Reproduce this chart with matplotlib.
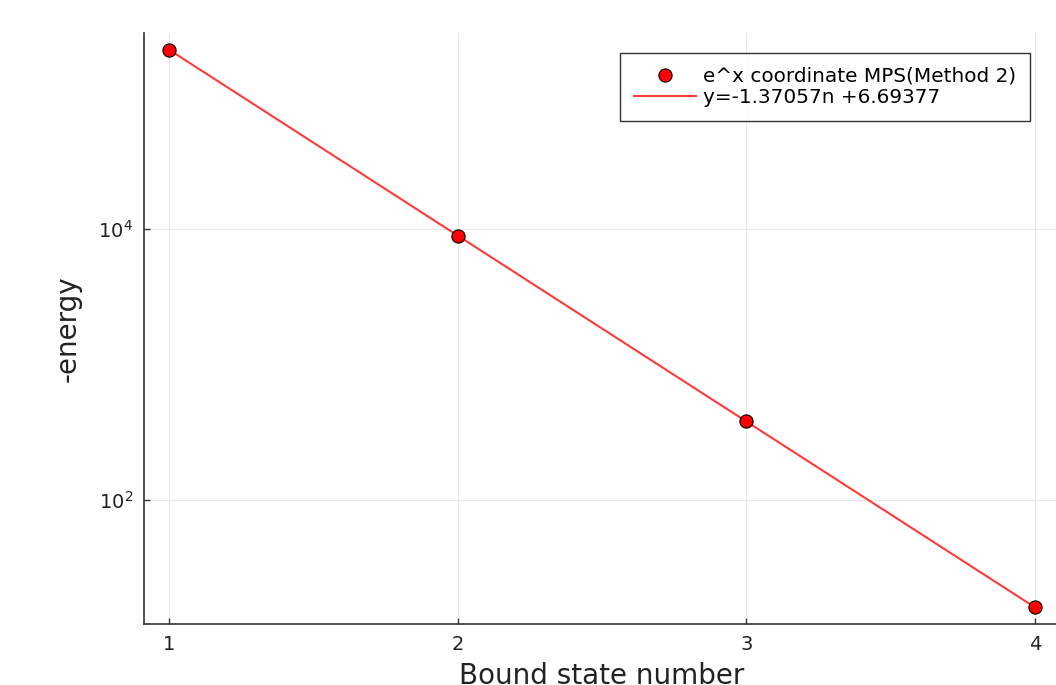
import matplotlib.pyplot as plt

# === Data ===
state_n = [1, 2, 3, 4]
neg_energy = [2.09e5, 8.95e3, 3.82e2, 1.63e1]
fit_n = [1, 4]
fit_energy = [2.104e5, 16.25]
label_points = "e^x coordinate MPS(Method 2)"
label_fit = "y=-1.37057n +6.69377"

# === Plot ===
fig = plt.figure(figsize=(10.56, 6.85), dpi=100)
ax = fig.add_axes([144 / 1056, 61 / 685, 916 / 1056, 591 / 685])

ax.plot(fit_n, fit_energy, color='#ff3a3a', linewidth=1.5, label=label_fit, zorder=2)
ax.plot(state_n, neg_energy, marker='o', linestyle='None', markersize=9.5,
        markerfacecolor='red', markeredgecolor='black', markeredgewidth=0.8,
        label=label_points, zorder=3)

ax.set_yscale('log')
ax.set_xlim(0.9133, 4.0867)
ax.set_ylim(10 ** 1.088, 10 ** 5.446)
ax.set_xticks(state_n)
ax.set_yticks([1e2, 1e4])
ax.set_yticks([], minor=True)

ax.grid(True, color='#e8e8e8', linewidth=0.8)
ax.set_axisbelow(True)
ax.spines['top'].set_visible(False)
ax.spines['right'].set_visible(False)
for s in ['left', 'bottom']:
    ax.spines[s].set_linewidth(1.2)
    ax.spines[s].set_color('#333333')
ax.tick_params(direction='in', length=4, width=1, colors='#333333', labelsize=14,
               labelcolor='#222222', pad=8)

ax.set_xlabel("Bound state number", fontsize=20, color='#222222', labelpad=6)
ax.set_ylabel("-energy", fontsize=20, color='#222222', labelpad=12)

handles, labels = ax.get_legend_handles_labels()
leg = ax.legend(handles[::-1], labels[::-1], loc='upper right',
                bbox_to_anchor=(1030 / 1056, 1 - 53 / 685), bbox_transform=fig.transFigure,
                borderaxespad=0, fontsize=14.4, frameon=True, fancybox=False,
                edgecolor='black', borderpad=0.7, labelspacing=0.1, handlelength=3.1,
                handletextpad=0.35)
leg.get_frame().set_linewidth(1.0)

plt.savefig("out.png", dpi=100)
